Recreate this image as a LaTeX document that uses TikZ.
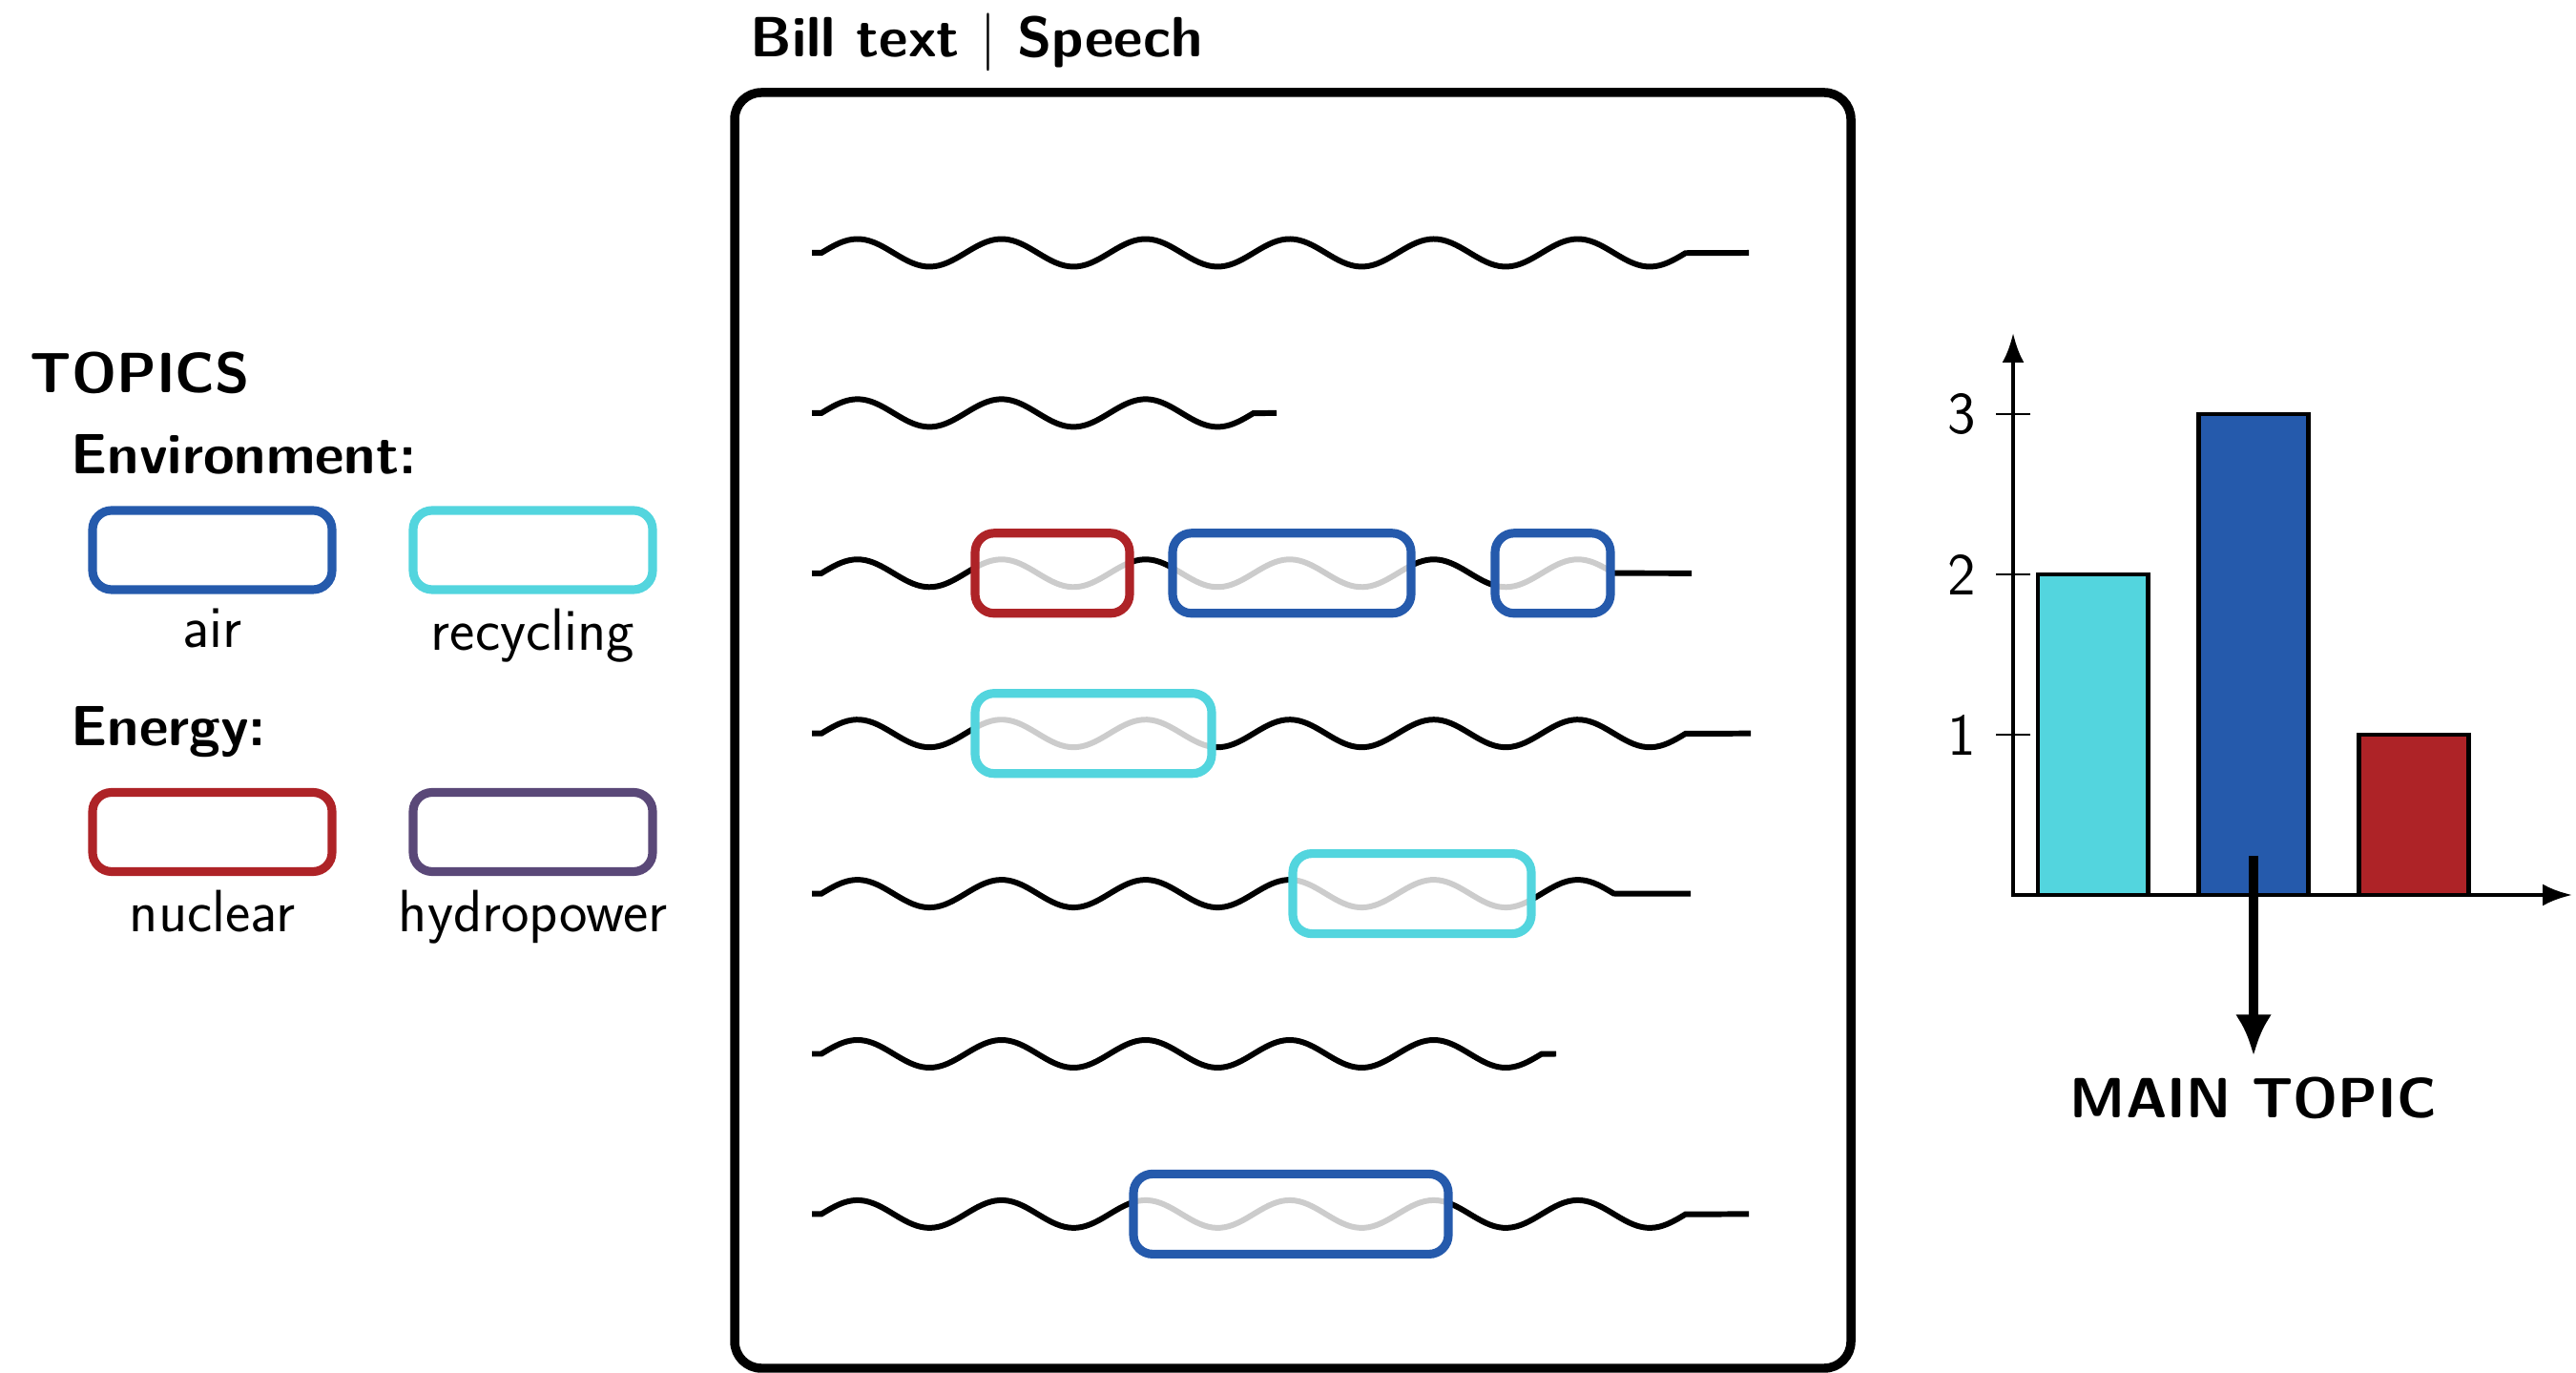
\documentclass[tikz,border=0pt]{standalone}
\usepackage{fontspec}
\usetikzlibrary{arrows.meta, positioning}

\definecolor{airblue}{HTML}{255AAC}
\definecolor{recyclecyan}{HTML}{53D5DE}
\definecolor{nuclearred}{HTML}{AE2327}
\definecolor{hydropurple}{HTML}{5A4878}

\begin{document}
\begin{tikzpicture}[
    every node/.style={font=\sffamily\fontsize{17.8}{21}\selectfont},
    heading/.style={font=\sffamily\bfseries\fontsize{16.9}{20}\selectfont, anchor=base west, inner sep=0pt},
    topicbox/.style={draw, rounded corners=0.2cm, line width=2.6pt, minimum width=2.51cm, minimum height=0.83cm},
    wave/.style={line width=1.7pt},
    hl/.style={rounded corners=0.2cm, line width=2.6pt, fill=white, fill opacity=0.8},
    bar/.style={draw=black, line width=1.4pt},
    axis/.style={line width=1.3pt},
]
    \useasboundingbox (0,0) rectangle (27,14.38);

    % topic legend
    \node[heading] (topics) at (0.31,10.26) {TOPICS};
    \node[heading] (env) at (0.74,9.41) {Environment:};
    \node[heading] (energy) at (0.74,6.56) {Energy:};

    \node[topicbox, draw=airblue] (air) at (2.225,8.615) {};
    \node[topicbox, draw=recyclecyan] (recycling) at (5.585,8.615) {};
    \node[topicbox, draw=nuclearred] (nuclear) at (2.225,5.66) {};
    \node[topicbox, draw=hydropurple] (hydro) at (5.585,5.66) {};
    \node[below=0.03cm of air] (airlabel) {air};
    \node[below=0.03cm of recycling] (recyclinglabel) {recycling};
    \node[below=0.03cm of nuclear] (nuclearlabel) {nuclear};
    \node[below=0.03cm of hydro] (hydrolabel) {hydropower};

    % document with its lines of text
    \node[heading] (title) at (7.86,13.78) {Bill text $|$ Speech};
    \draw[line width=2.7pt, rounded corners=0.28cm] (7.70,0.04) rectangle (19.40,13.41);

    \foreach \p/\e [count=\i from 0] in {6/18.33, 3/13.38, 5.5/17.73, 6/18.35, 5.5/17.72, 5/16.31, 6/18.33}
        \draw[wave] (8.51,{11.73-1.679*\i}) -- (8.61,{11.73-1.679*\i})
            -- plot[domain=0:\p, samples=200] ({8.61+1.51*\x},{11.73-1.679*\i+0.145*sin(360*\x)})
            -- (\e,{11.73-1.679*\i});

    % marked passages
    \foreach \a/\b/\i/\c in {10.22/11.84/2/nuclearred, 12.29/14.79/2/airblue, 15.67/16.88/2/airblue,
                             10.22/12.70/3/recyclecyan, 13.55/16.05/4/recyclecyan, 11.88/15.18/6/airblue}
        \draw[hl, draw=\c] (\a,{11.73-1.679*\i-0.42}) rectangle (\b,{11.73-1.679*\i+0.42});

    % counts per topic
    \foreach \x/\h/\c in {21.36/2/recyclecyan, 23.04/3/airblue, 24.72/1/nuclearred}
        \draw[bar, fill=\c] (\x,5) rectangle ++(1.15,{1.68*\h});
    \draw[axis, {Latex[length=0.31cm, width=0.23cm]}-{Latex[length=0.31cm, width=0.23cm]}]
        (21.10,10.89) -- (21.10,5) -- (26.96,5);
    \foreach \v in {1,2,3}
        \draw[line width=0.7pt] (21.28,{5+1.68*\v}) -- (20.92,{5+1.68*\v}) node[left=0.08cm] (tick\v) {\v};

    \coordinate (mt) at (23.62,5.41);
    \node[font=\sffamily\bfseries\fontsize{16.9}{20}\selectfont, inner sep=0.22cm] (main) at (23.62,2.87) {MAIN TOPIC};
    \draw[line width=3pt, -{Latex[length=0.43cm, width=0.38cm]}] (mt) -- (main);
\end{tikzpicture}
\end{document}
